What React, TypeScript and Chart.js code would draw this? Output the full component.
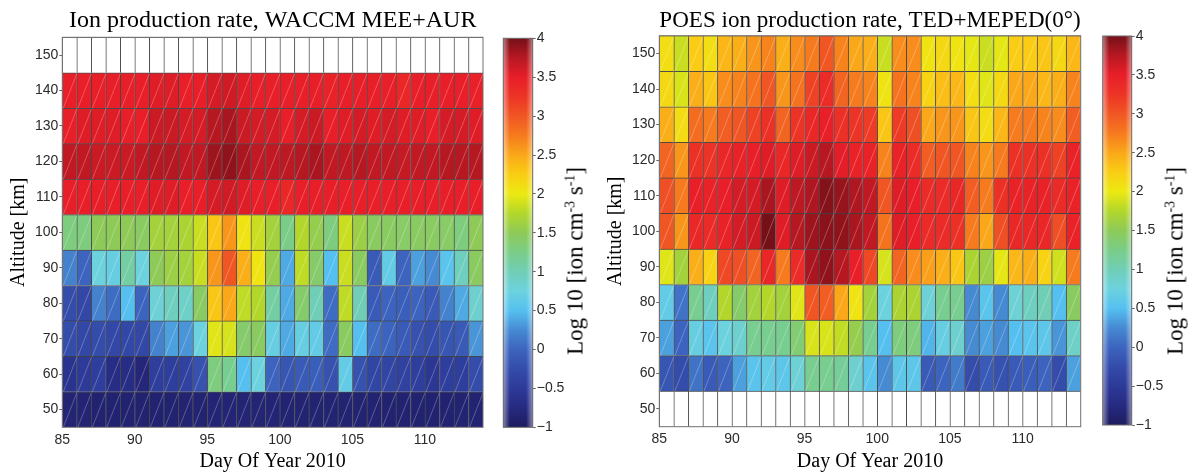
import React, { useEffect, useRef } from 'react';
import { Chart, registerables } from 'chart.js';

Chart.register(...registerables);

// ---------------- data ----------------
const days = [85, 86, 87, 88, 89, 90, 91, 92, 93, 94, 95, 96, 97, 98, 99, 100, 101, 102, 103, 104, 105, 106, 107, 108, 109, 110, 111, 112, 113];
const altitudes = [50, 60, 70, 80, 90, 100, 110, 120, 130, 140, 150];
const xTicks = [85, 90, 95, 100, 105, 110];
const yTicks = [50, 60, 70, 80, 90, 100, 110, 120, 130, 140, 150];
const cbTicks = [-1, -0.5, 0, 0.5, 1, 1.5, 2, 2.5, 3, 3.5, 4];
const cbTickLabels = ['\u22121', '\u22120.5', '0', '0.5', '1', '1.5', '2', '2.5', '3', '3.5', '4'];
const cbMin = -1;
const cbMax = 4;

const leftTitle = 'Ion production rate, WACCM MEE+AUR';
const rightTitle = 'POES ion production rate, TED+MEPED(0\u00B0)';
const xLabel = 'Day Of Year 2010';
const yLabel = 'Altitude [km]';

// WACCM MEE+AUR (log10 ion production), one array per altitude row
const waccm150 = [null, null, null, null, null, null, null, null, null, null, null, null, null, null, null, null, null, null, null, null, null, null, null, null, null, null, null, null, null];
const waccm140 = [3.5, 3.5, 3.5, 3.5, 3.5, 3.5, 3.55, 3.55, 3.5, 3.5, 3.6, 3.62, 3.55, 3.5, 3.5, 3.5, 3.5, 3.5, 3.45, 3.5, 3.5, 3.5, 3.5, 3.4, 3.5, 3.5, 3.5, 3.5, 3.48];
const waccm130 = [3.5, 3.55, 3.55, 3.55, 3.5, 3.5, 3.65, 3.65, 3.6, 3.6, 3.75, 3.8, 3.65, 3.6, 3.6, 3.5, 3.6, 3.65, 3.5, 3.55, 3.6, 3.55, 3.6, 3.55, 3.55, 3.5, 3.6, 3.6, 3.55];
const waccm120 = [3.7, 3.7, 3.65, 3.65, 3.65, 3.7, 3.75, 3.75, 3.7, 3.7, 3.85, 3.9, 3.8, 3.7, 3.7, 3.72, 3.75, 3.8, 3.7, 3.72, 3.75, 3.7, 3.7, 3.68, 3.7, 3.7, 3.75, 3.75, 3.75];
const waccm110 = [3.5, 3.5, 3.5, 3.5, 3.5, 3.5, 3.55, 3.55, 3.5, 3.5, 3.6, 3.62, 3.55, 3.5, 3.5, 3.4, 3.5, 3.5, 3.5, 3.5, 3.5, 3.5, 3.5, 3.5, 3.5, 3.5, 3.5, 3.5, 3.5];
const waccm100 = [1.3, 1.3, 1.5, 1.5, 1.5, 1.45, 1.65, 1.65, 1.7, 1.85, 2.3, 2.6, 2.05, 1.85, 1.65, 1.25, 1.75, 1.55, 1.3, 1.85, 1.6, 1.45, 1.45, 1.42, 1.45, 1.45, 1.42, 1.3, 1.5];
const waccm90 = [0.2, 0.0, 0.75, 0.7, 1.1, 0.75, 1.5, 1.6, 1.65, 1.85, 2.6, 3.0, 2.45, 2.05, 1.55, 0.4, 1.8, 1.4, 0.5, 1.85, 1.45, -0.1, 0.65, 0.0, 0.35, 0.25, 0.55, 0.95, 1.45];
const waccm80 = [-0.25, -0.3, 0.2, 0.05, 0.5, 0.0, 0.8, 0.95, 0.9, 1.45, 2.3, 2.5, 1.8, 1.75, 1.1, 0.4, 1.4, 1.0, 0.05, 1.8, 1.0, -0.1, 0.0, -0.05, 0.0, -0.1, 0.2, 0.4, 0.85];
const waccm70 = [-0.25, -0.3, -0.25, -0.3, -0.3, -0.3, 0.2, 0.35, 0.3, 0.75, 1.95, 1.9, 1.4, 1.45, 0.7, 0.4, 0.7, 0.65, 0.05, 1.45, 0.5, 0.05, 0.0, -0.1, -0.2, -0.25, -0.15, -0.1, 0.3];
const waccm60 = [-0.6, -0.5, -0.45, -0.7, -0.7, -0.8, -0.45, -0.45, -0.4, -0.2, 1.3, 1.2, 0.5, 0.75, 0.0, -0.15, -0.1, -0.05, -0.2, 0.65, -0.2, -0.35, -0.35, -0.4, -0.45, -0.55, -0.45, -0.45, -0.25];
const waccm50 = [-0.85, -0.85, -0.87, -0.87, -0.87, -0.88, -0.87, -0.87, -0.86, -0.86, -0.84, -0.84, -0.85, -0.85, -0.85, -0.86, -0.86, -0.86, -0.86, -0.86, -0.86, -0.86, -0.87, -0.87, -0.87, -0.87, -0.87, -0.86, -0.86];

// POES TED+MEPED(0)
const poes150 = [2.1, 1.85, 2.25, 2.1, 2.4, 2.45, 2.6, 2.7, 2.45, 2.65, 2.75, 3.0, 2.7, 2.5, 2.45, 1.85, 2.65, 2.65, 2.05, 2.15, 2.05, 1.97, 1.85, 1.97, 2.25, 2.25, 2.3, 2.15, 2.4];
const poes140 = [2.15, 1.92, 2.45, 2.3, 2.65, 2.7, 2.8, 3.0, 2.6, 2.8, 3.15, 3.35, 2.9, 2.75, 2.7, 2.05, 2.8, 2.7, 2.2, 2.35, 2.4, 2.1, 1.95, 2.15, 2.5, 2.5, 2.4, 2.45, 2.7];
const poes130 = [2.45, 2.12, 2.85, 2.75, 2.95, 3.0, 3.15, 3.3, 2.9, 3.25, 3.4, 3.5, 3.3, 3.25, 3.2, 2.3, 3.2, 3.05, 2.5, 2.6, 2.6, 2.3, 2.12, 2.4, 2.75, 2.75, 2.7, 2.65, 2.95];
const poes120 = [2.9, 2.6, 3.3, 3.25, 3.4, 3.45, 3.5, 3.55, 3.4, 3.55, 3.65, 3.75, 3.52, 3.45, 3.45, 2.7, 3.45, 3.35, 2.95, 3.0, 3.0, 2.7, 2.6, 2.75, 3.3, 3.3, 3.3, 3.15, 3.45];
const poes110 = [3.05, 2.75, 3.5, 3.45, 3.5, 3.6, 3.6, 3.8, 3.55, 3.72, 3.78, 3.95, 3.87, 3.78, 3.7, 3.0, 3.55, 3.5, 3.35, 3.35, 3.4, 2.95, 2.75, 3.3, 3.45, 3.45, 3.45, 3.35, 3.45];
const poes100 = [3.0, 2.6, 3.4, 3.35, 3.45, 3.6, 3.65, 4.0, 3.55, 3.75, 3.85, 3.92, 3.9, 3.8, 3.7, 2.8, 3.55, 3.5, 3.35, 3.35, 3.3, 2.75, 2.5, 3.05, 3.4, 3.4, 3.4, 3.05, 3.45];
const poes90 = [1.95, 1.65, 2.45, 2.2, 3.1, 3.05, 2.9, 3.4, 2.75, 3.35, 3.8, 3.9, 3.75, 3.5, 3.1, 1.9, 2.9, 2.65, 2.55, 2.45, 2.3, 1.7, 1.6, 1.97, 2.4, 2.45, 2.2, 1.88, 2.75];
const poes80 = [0.65, 0.1, 1.2, 0.95, 1.75, 1.4, 1.65, 1.75, 1.65, 1.95, 3.0, 2.95, 2.5, 2.05, 1.65, 0.75, 1.7, 1.7, 0.8, 1.2, 1.2, 0.25, 0.55, 0.25, 0.8, 0.95, 1.0, 0.5, 1.45];
const poes70 = [0.35, 0.0, 0.7, 0.55, 0.75, 0.85, 1.2, 1.2, 1.2, 1.35, 1.92, 1.92, 1.82, 1.55, 1.2, 0.5, 1.3, 1.3, 0.45, 0.7, 0.85, 0.25, 0.35, 0.25, 0.5, 0.55, 0.6, 0.3, 0.9];
const poes60 = [-0.15, -0.25, 0.1, -0.1, 0.0, 0.35, 0.55, 0.65, 0.6, 0.8, 1.2, 1.2, 1.15, 0.85, 0.55, 0.25, 0.6, 0.6, -0.1, 0.0, 0.15, -0.25, -0.1, -0.2, -0.1, -0.05, 0.0, -0.25, 0.35];
const poes50 = [null, null, null, null, null, null, null, null, null, null, null, null, null, null, null, null, null, null, null, null, null, null, null, null, null, null, null, null, null];

const waccmRows = [waccm50, waccm60, waccm70, waccm80, waccm90, waccm100, waccm110, waccm120, waccm130, waccm140, waccm150];
const poesRows = [poes50, poes60, poes70, poes80, poes90, poes100, poes110, poes120, poes130, poes140, poes150];

// colormap
const cmapValues = [-1, -0.75, -0.5, -0.25, 0, 0.25, 0.5, 0.75, 1, 1.25, 1.5, 1.75, 2, 2.25, 2.5, 2.75, 3, 3.25, 3.5, 3.75, 4];
const cmapColors = [
  [30, 28, 95], [38, 42, 128], [45, 58, 152], [52, 76, 170], [60, 100, 190], [70, 138, 210],
  [85, 192, 240], [108, 210, 222], [112, 206, 182], [122, 205, 135], [142, 202, 88], [178, 215, 42],
  [236, 233, 18], [250, 205, 20], [250, 168, 25], [246, 122, 30], [240, 86, 35], [236, 52, 38],
  [232, 30, 40], [182, 24, 34], [118, 16, 24],
];

// ---------------- helpers ----------------
const SERIF = '"Liberation Serif", "Times New Roman", serif';
const SANS = '"Liberation Sans", Arial, sans-serif';
const TICK_COLOR = '#2a2a2a';

function rgbStr(c: number[]) {
  return `rgb(${Math.round(c[0])},${Math.round(c[1])},${Math.round(c[2])})`;
}

function colorFor(v: number | null): string {
  if (v === null || v === undefined) return '#ffffff';
  if (v <= cmapValues[0]) return rgbStr(cmapColors[0]);
  for (let i = 1; i < cmapValues.length; i++) {
    if (v <= cmapValues[i]) {
      const t = (v - cmapValues[i - 1]) / (cmapValues[i] - cmapValues[i - 1]);
      const a = cmapColors[i - 1];
      const b = cmapColors[i];
      return rgbStr([a[0] + (b[0] - a[0]) * t, a[1] + (b[1] - a[1]) * t, a[2] + (b[2] - a[2]) * t]);
    }
  }
  return rgbStr(cmapColors[cmapColors.length - 1]);
}

function buildDatasets(rows: (number | null)[][]) {
  return altitudes.map((alt, a) => ({
    data: days.map((d) => ({ x: d + 0.5, y: [alt - 5, alt + 5] })),
    backgroundColor: rows[a].map((v) => colorFor(v)),
    values: rows[a],
  }));
}

const diagPlugin = {
  id: 'cellDiagonals',
  afterDatasetsDraw(chart: any) {
    const ctx = chart.ctx;
    ctx.save();
    ctx.strokeStyle = 'rgba(255,255,255,0.32)';
    ctx.lineWidth = 0.8;
    chart.data.datasets.forEach((ds: any, di: number) => {
      const meta = chart.getDatasetMeta(di);
      meta.data.forEach((el: any, i: number) => {
        if (ds.values[i] === null) return;
        const p = el.getProps(['x', 'y', 'base', 'width'], true);
        const l = p.x - p.width / 2;
        const r = p.x + p.width / 2;
        const t = Math.min(p.y, p.base);
        const b = Math.max(p.y, p.base);
        ctx.beginPath();
        ctx.moveTo(l + 1, b);
        ctx.lineTo(r, t + 1);
        ctx.stroke();
      });
    });
    ctx.restore();
  },
};

const framePlugin = {
  id: 'axesFrame',
  afterDatasetsDraw(chart: any) {
    const { left, top, right, bottom } = chart.chartArea;
    const ctx = chart.ctx;
    ctx.save();
    ctx.strokeStyle = '#707070';
    ctx.lineWidth = 1;
    ctx.strokeRect(left, top, right - left, bottom - top);
    ctx.restore();
  },
};

const cbPlugin = {
  id: 'colorbarFrame',
  afterDatasetsDraw(chart: any) {
    const { left, top, right, bottom } = chart.chartArea;
    const ctx = chart.ctx;
    ctx.save();
    const g = ctx.createLinearGradient(left, 0, right, 0);
    g.addColorStop(0, 'rgba(255,255,255,0.45)');
    g.addColorStop(0.22, 'rgba(255,255,255,0)');
    g.addColorStop(0.78, 'rgba(255,255,255,0)');
    g.addColorStop(1, 'rgba(255,255,255,0.45)');
    ctx.fillStyle = g;
    ctx.fillRect(left, top, right - left, bottom - top);
    ctx.strokeStyle = '#6a6a6a';
    ctx.lineWidth = 1;
    ctx.strokeRect(left, top, right - left, bottom - top);
    ctx.restore();
  },
};

type HeatGeom = { padRight: number; titleTop: number; titleBottom: number; xAxisHeight: number };

function heatConfig(title: string, rows: (number | null)[][], g: HeatGeom): any {
  return {
    type: 'bar',
    data: { datasets: buildDatasets(rows) },
    options: {
      responsive: false,
      animation: false,
      events: [],
      layout: { padding: { left: 0, right: g.padRight, top: 0, bottom: 0 } },
      datasets: {
        bar: {
          grouped: false,
          barPercentage: 1,
          categoryPercentage: 1,
          borderSkipped: false,
          borderWidth: { top: 1, left: 1, right: 0, bottom: 0 },
          borderColor: 'rgba(35,35,35,0.8)',
        },
      },
      plugins: {
        legend: { display: false },
        tooltip: { enabled: false },
        title: {
          display: true,
          text: title,
          fullSize: false,
          color: '#000',
          font: { family: SERIF, size: 24, weight: 'normal' },
          padding: { top: g.titleTop, bottom: g.titleBottom },
        },
      },
      scales: {
        x: {
          type: 'linear',
          min: 85,
          max: 114,
          offset: false,
          afterBuildTicks: (s: any) => {
            s.ticks = xTicks.map((v) => ({ value: v }));
          },
          afterFit: (s: any) => {
            s.height = g.xAxisHeight;
          },
          grid: { display: false, drawTicks: false },
          border: { display: false },
          ticks: { autoSkip: false, maxRotation: 0, padding: 4, color: TICK_COLOR, font: { family: SANS, size: 14 } },
          title: { display: true, text: xLabel, color: '#000', font: { family: SERIF, size: 20 }, padding: { top: 0, bottom: 1.7 } },
        },
        y: {
          type: 'linear',
          min: 45,
          max: 155,
          afterBuildTicks: (s: any) => {
            s.ticks = yTicks.map((v) => ({ value: v }));
          },
          afterFit: (s: any) => {
            s.width = 62.3;
          },
          grid: { display: true, drawOnChartArea: false, drawTicks: true, tickLength: 3, color: '#666' },
          border: { display: false },
          ticks: { autoSkip: false, padding: 1, color: TICK_COLOR, font: { family: SANS, size: 14 } },
          title: { display: true, text: yLabel, color: '#000', font: { family: SERIF, size: 20 }, padding: { top: 7, bottom: 0 } },
        },
      },
    },
    plugins: [diagPlugin, framePlugin],
  };
}

type CbGeom = { padLeft: number; top: number; bottom: number; axisWidth: number };

function colorbarConfig(g: CbGeom): any {
  return {
    type: 'bar',
    data: {
      labels: ['colorbar'],
      datasets: [
        {
          data: [[cbMin, cbMax]],
          borderWidth: 0,
          barPercentage: 1,
          categoryPercentage: 1,
          backgroundColor: (c: any) => {
            const chart = c.chart;
            const ys = chart.scales && chart.scales.y;
            if (!chart.chartArea || !ys) return 'transparent';
            const y0 = ys.getPixelForValue(cbMin);
            const y1 = ys.getPixelForValue(cbMax);
            const grad = chart.ctx.createLinearGradient(0, y0, 0, y1);
            cmapValues.forEach((v, i) => grad.addColorStop((v - cbMin) / (cbMax - cbMin), rgbStr(cmapColors[i])));
            return grad;
          },
        },
      ],
    },
    options: {
      responsive: false,
      animation: false,
      events: [],
      layout: { padding: { left: g.padLeft, right: 0, top: g.top, bottom: g.bottom } },
      plugins: { legend: { display: false }, tooltip: { enabled: false }, title: { display: false } },
      scales: {
        x: { display: false },
        y: {
          position: 'right',
          min: cbMin,
          max: cbMax,
          afterBuildTicks: (s: any) => {
            s.ticks = cbTicks.map((v) => ({ value: v }));
          },
          afterFit: (s: any) => {
            s.width = g.axisWidth;
          },
          grid: { display: true, drawOnChartArea: false, drawTicks: true, tickLength: 3, color: '#666' },
          border: { display: false },
          ticks: {
            autoSkip: false,
            padding: 1,
            color: TICK_COLOR,
            font: { family: SANS, size: 14 },
            callback: (v: number) => {
              const i = cbTicks.findIndex((t) => Math.abs(t - v) < 1e-9);
              return i >= 0 ? cbTickLabels[i] : '';
            },
          },
        },
      },
    },
    plugins: [cbPlugin],
  };
}

function CbLabel({ cx, cy }: { cx: number; cy: number }) {
  const sup: React.CSSProperties = { fontSize: '0.6em', verticalAlign: '0.6em', lineHeight: 0 };
  return (
    <div
      style={{
        position: 'absolute',
        left: cx,
        top: cy,
        transform: 'translate(-50%, -50%) rotate(-90deg)',
        whiteSpace: 'nowrap',
        fontFamily: SERIF,
        fontSize: 23,
        lineHeight: 1,
        color: '#000',
      }}
    >
      Log 10 [ion cm<sup style={sup}>-3</sup> s<sup style={sup}>-1</sup>]
    </div>
  );
}

export default function App() {
  const leftHeat = useRef<HTMLCanvasElement>(null);
  const leftCb = useRef<HTMLCanvasElement>(null);
  const rightHeat = useRef<HTMLCanvasElement>(null);
  const rightCb = useRef<HTMLCanvasElement>(null);

  useEffect(() => {
    const charts: Chart[] = [];
    if (leftHeat.current)
      charts.push(new Chart(leftHeat.current, heatConfig(leftTitle, waccmRows, { padRight: 17, titleTop: 6.8, titleBottom: 1.7, xAxisHeight: 47.7 })));
    if (rightHeat.current)
      charts.push(new Chart(rightHeat.current, heatConfig(rightTitle, poesRows, { padRight: 16.3, titleTop: 6.8, titleBottom: 0.1, xAxisHeight: 48.3 })));
    if (leftCb.current) charts.push(new Chart(leftCb.current, colorbarConfig({ padLeft: 3.3, top: 38.3, bottom: 47.7, axisWidth: 47.3 })));
    if (rightCb.current) charts.push(new Chart(rightCb.current, colorbarConfig({ padLeft: 2.7, top: 36, bottom: 50, axisWidth: 58.3 })));
    return () => charts.forEach((c) => c.destroy());
  }, []);

  return (
    <div style={{ position: 'fixed', left: 0, top: 0, width: 1190, height: 475, background: '#fff', overflow: 'hidden' }}>
      <canvas ref={leftHeat} width={500} height={475} style={{ position: 'absolute', left: 0, top: 0 }} />
      <canvas ref={leftCb} width={80} height={475} style={{ position: 'absolute', left: 500, top: 0 }} />
      <canvas ref={rightHeat} width={500} height={475} style={{ position: 'absolute', left: 597, top: 0 }} />
      <canvas ref={rightCb} width={90} height={475} style={{ position: 'absolute', left: 1100, top: 0 }} />
      <CbLabel cx={575} cy={261} />
      <CbLabel cx={1175} cy={261} />
    </div>
  );
}
